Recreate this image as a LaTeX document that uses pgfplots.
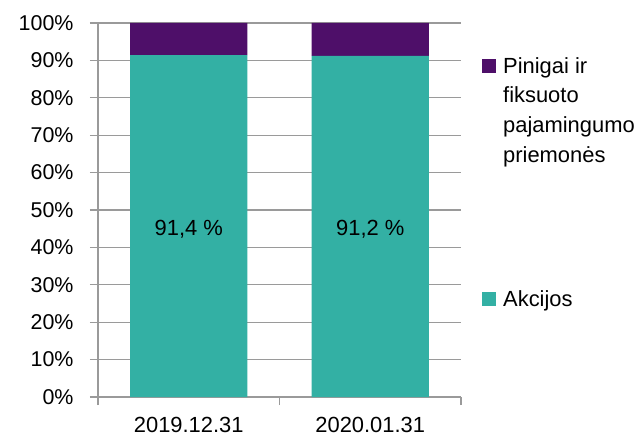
\documentclass[border=0pt]{standalone}
\usepackage{fontspec}
\setmainfont{Liberation Sans}
\usepackage{pgfplots}
\pgfplotsset{compat=1.18}
\definecolor{myteal}{HTML}{33B0A4}
\definecolor{mypurple}{HTML}{4E0F69}
\definecolor{gridgray}{HTML}{9A9A9A}
\begin{document}
\begin{tikzpicture}[font=\fontsize{22}{30}\selectfont]
\begin{axis}[
  at={(0,0)}, anchor=south west,
  scale only axis, width=363bp, height=374bp,
  ybar stacked, bar width=117bp,
  xmin=-0.5, xmax=1.5, ymin=0, ymax=100,
  xtick={-0.5,0.5,1.5}, xticklabels={},
  extra x ticks={0,1},
  extra x tick labels={2019.12.31,2020.01.31},
  extra x tick style={major tick length=0pt, grid=none},
  ytick={0,10,...,100},
  yticklabel={\pgfmathprintnumber{\tick}\%},
  /pgf/number format/assume math mode=true,
  ymajorgrids, grid style={gridgray, line width=1.2bp},
  axis x line*=bottom, axis y line*=left,
  axis line style={draw=gridgray, line width=1.2bp, -},
  tick align=outside, major tick length=8bp,
  tick style={draw=gridgray, line width=1.2bp},
  yticklabel style={xshift=-13bp, font=\fontsize{21.5}{26}\selectfont},
  xticklabel style={yshift=-17bp, font=\fontsize{22}{26}\selectfont},
  reverse legend,
  legend style={at={(rel axis cs:1,1)}, anchor=north west, xshift=18bp, yshift=-30bp,
    draw=none, fill=none, row sep=122bp, cells={anchor=west, align=left},
    font=\fontsize{22}{30}\selectfont},
  legend image code/.code={\path[fill=none,draw=none] (0bp,-7bp) rectangle (19bp,7bp); \fill[myteal] (0bp,-7bp) rectangle (14bp,7bp);},
]
\addplot[fill=myteal, draw=none, nodes near coords, point meta=explicit symbolic,
  every node near coord/.append style={yshift=-3bp, anchor=center, text=black,
    font=\fontsize{22}{26}\selectfont}]
  coordinates {(0,91.4) [91,4 \%] (1,91.2) [91,2 \%]};
\addlegendentry{Akcijos}
\addplot[fill=mypurple, draw=none,
  legend image code/.code={\path[fill=none,draw=none] (0bp,-52bp) rectangle (19bp,52bp); \fill[mypurple] (0bp,38bp) rectangle (14bp,52bp);}]
  coordinates {(0,8.6) (1,8.8)};
\addlegendentry{Pinigai ir\\fiksuoto\\pajamingumo\\priemonės}
\end{axis}
\pgfresetboundingbox
\path[use as bounding box] (-98bp,-40bp) rectangle (541bp,397bp);
\end{tikzpicture}
\end{document}
